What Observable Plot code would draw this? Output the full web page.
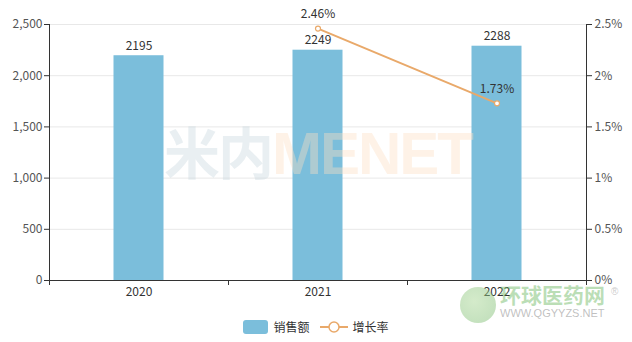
<!DOCTYPE html>
<html>
<head>
<meta charset="utf-8">
<script src="https://cdn.jsdelivr.net/npm/d3@7"></script>
<script src="https://cdn.jsdelivr.net/npm/@observablehq/plot@0.6"></script>
<style>
  html, body { margin: 0; padding: 0; background: #fff; }
  body { width: 632px; height: 342px; position: relative; overflow: hidden; font-family: "Noto Sans CJK SC", "Noto Sans", sans-serif; }
  #chart { position: absolute; left: 0; top: 0; }
  .wm1 { position: absolute; left: 164px; top: 122px; font: bold 56px "Noto Sans CJK SC", sans-serif; letter-spacing: -2px; line-height: 1; pointer-events: none; }
  .wm1 .a { color: rgba(200, 215, 222, 0.4); }
  .wm1 .b { color: rgba(252, 222, 195, 0.4); font-family: "Liberation Sans Narrow", "Liberation Sans", sans-serif; font-weight: bold; font-size: 60px; }
  .wm2 { position: absolute; left: 458px; top: 283px; pointer-events: none; }
  .wm2 .t { font: bold 21px "Noto Sans CJK SC", sans-serif; color: rgba(120, 190, 110, 0.5); position: absolute; left: 42px; top: -4px; white-space: nowrap; }
  .wm2 .u { font: 11px "Liberation Sans", sans-serif; color: rgba(150, 150, 150, 0.6); position: absolute; left: 42px; top: 24px; white-space: nowrap; }
  .wm2 .r { font: 10px sans-serif; color: rgba(180,180,180,0.7); position: absolute; left: 153px; top: 3px; }
  .wm2 .g { position: absolute; left: 2px; top: 4px; width: 36px; height: 36px; border-radius: 50%; background: radial-gradient(circle at 40% 40%, rgba(170,215,150,0.5), rgba(110,180,100,0.45)); }
  .legend { position: absolute; top: 318px; left: 0; width: 632px; display: flex; justify-content: center; align-items: center; font-size: 12px; color: #333; }
  .legend .item { display: flex; align-items: center; margin: 0 5px; }
  .legend .sw { width: 25px; height: 14px; border-radius: 3px; background: #7bbedb; margin-right: 5px; }
  .legend svg { margin-right: 5px; }
</style>
</head>
<body>
<div id="chart"></div>
<div class="wm1"><span class="a">米内</span><span class="b">MENET</span></div>
<div class="wm2"><div class="g"></div><div class="t">环球医药网</div><div class="r">®</div><div class="u">WWW.QGYYZS.NET</div></div>
<div class="legend">
  <div class="item"><div class="sw"></div><span>销售额</span></div>
  <div class="item"><svg width="28" height="14"><line x1="0" y1="7" x2="28" y2="7" stroke="#e9a96a" stroke-width="2"/><circle cx="14" cy="7" r="5" fill="#fff" stroke="#e9a96a" stroke-width="1.5"/></svg><span>增长率</span></div>
</div>
<script>
const years = ["2020", "2021", "2022"];
const sales = [2195, 2249, 2288];
const growthYears = ["2021", "2022"];
const growth = [2.46, 1.73]; // percent
const leftTicks = [0, 500, 1000, 1500, 2000, 2500];
const rightTickLabels = ["0%", "0.5%", "1%", "1.5%", "2%", "2.5%"];

const barColor = "#7bbedb";
const lineColor = "#e9a96a";

const salesData = years.map((y, i) => ({ year: y, i, value: sales[i] }));
const growthData = growthYears.map((y, k) => ({ year: y, i: years.indexOf(y), g: growth[k], v: growth[k] * 1000 }));

const chart = Plot.plot({
  width: 632,
  height: 300,
  marginLeft: 49,
  marginRight: 46,
  marginTop: 24,
  marginBottom: 20,
  style: { fontFamily: "'Noto Sans CJK SC', 'Noto Sans', sans-serif", fontSize: "12px", color: "#555", background: "transparent" },
  x: { domain: [0, years.length], axis: null },
  y: { domain: [0, 2500], axis: null },
  marks: [
    Plot.gridY(leftTicks.filter(d => d > 0), { stroke: "#e8e8e8", strokeOpacity: 1 }),
    Plot.rectY(salesData, { x1: "i", x2: d => d.i + 1, y: "value", fill: barColor, insetLeft: 64.5, insetRight: 64.5 }),
    Plot.text(salesData, { x: d => d.i + 0.5, y: "value", text: d => String(d.value), dy: -10, fill: "#333", fontSize: 12 }),
    Plot.axisY({ ticks: leftTicks, tickFormat: d3.format(","), tickSize: 5, tickPadding: 2, stroke: "#333", fill: "#555", fontSize: 12, label: null }),
    Plot.axisY({ anchor: "right", ticks: leftTicks, tickFormat: (d, k) => rightTickLabels[k], tickSize: 5, tickPadding: 3, stroke: "#333", fill: "#555", fontSize: 12, label: null }),
    Plot.ruleX([0, years.length], { stroke: "#333" }),
    Plot.ruleY([0], { stroke: "#333" }),
    Plot.axisX({ ticks: d3.range(years.length + 1), tickFormat: () => "", tickSize: 5, stroke: "#333", label: null }),
    Plot.axisX({ ticks: years.map((y, i) => i + 0.5), tickFormat: (d) => years[Math.floor(d)], tickSize: 0, tickPadding: 7, fill: "#333", fontSize: 12, label: null }),
    Plot.line(growthData, { x: d => d.i + 0.5, y: "v", stroke: lineColor, strokeWidth: 2 }),
    Plot.dot(growthData, { x: d => d.i + 0.5, y: "v", r: 2.5, fill: "#fff", stroke: lineColor, strokeWidth: 1.2 }),
    Plot.text(growthData, { x: d => d.i + 0.5, y: "v", text: d => d.g.toFixed(2) + "%", dy: -14, fill: "#333", fontSize: 12 })
  ]
});
document.getElementById("chart").appendChild(chart);
</script>
</body>
</html>
